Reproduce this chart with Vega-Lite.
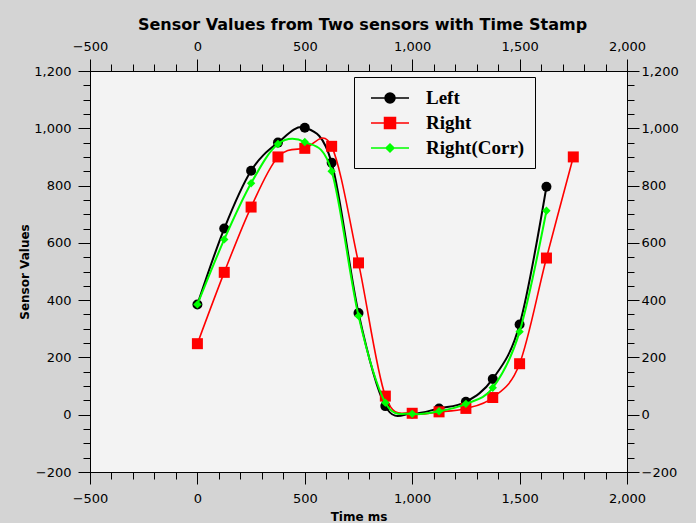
{
  "$schema": "https://vega.github.io/schema/vega-lite/v6.json",
  "width": 537,
  "height": 401,
  "autosize": {"type": "none"},
  "padding": {"left": 90, "top": 71, "right": 69, "bottom": 51},
  "background": "#d4d4d4",
  "title": {"text": "Sensor Values from Two sensors with Time Stamp", "font": "DejaVu Sans", "fontSize": 16, "fontWeight": "bold", "color": "black", "offset": 7, "frame": "group", "anchor": "middle", "dx": 4},
  "config": {
    "view": {"fill": "#f3f3f3", "stroke": "black", "strokeWidth": 1},
    "axis": {"labelFont": "DejaVu Sans", "labelFontSize": 13, "labelColor": "black", "tickColor": "black", "domainColor": "black", "grid": false, "titleFont": "DejaVu Sans", "titleFontSize": 12, "titleFontWeight": "bold", "titleColor": "black", "labelFlush": false, "labelOverlap": false}
  },
  "data": {"values": [
    {"t": 0, "v": 385, "s": "Left"},
    {"t": 125, "v": 650, "s": "Left"},
    {"t": 250, "v": 852, "s": "Left"},
    {"t": 375, "v": 950, "s": "Left"},
    {"t": 500, "v": 1002, "s": "Left"},
    {"t": 625, "v": 880, "s": "Left"},
    {"t": 750, "v": 355, "s": "Left"},
    {"t": 875, "v": 30, "s": "Left"},
    {"t": 1000, "v": 4, "s": "Left"},
    {"t": 1125, "v": 22, "s": "Left"},
    {"t": 1250, "v": 45, "s": "Left"},
    {"t": 1375, "v": 125, "s": "Left"},
    {"t": 1500, "v": 315, "s": "Left"},
    {"t": 1625, "v": 796, "s": "Left"},
    {"t": 0, "v": 248, "s": "Right"},
    {"t": 125, "v": 497, "s": "Right"},
    {"t": 250, "v": 725, "s": "Right"},
    {"t": 375, "v": 900, "s": "Right"},
    {"t": 500, "v": 930, "s": "Right"},
    {"t": 625, "v": 937, "s": "Right"},
    {"t": 750, "v": 530, "s": "Right"},
    {"t": 875, "v": 65, "s": "Right"},
    {"t": 1000, "v": 5, "s": "Right"},
    {"t": 1125, "v": 10, "s": "Right"},
    {"t": 1250, "v": 22, "s": "Right"},
    {"t": 1375, "v": 60, "s": "Right"},
    {"t": 1500, "v": 178, "s": "Right"},
    {"t": 1625, "v": 547, "s": "Right"},
    {"t": 1750, "v": 900, "s": "Right"},
    {"t": 0, "v": 385, "s": "Right(Corr)"},
    {"t": 125, "v": 612, "s": "Right(Corr)"},
    {"t": 250, "v": 808, "s": "Right(Corr)"},
    {"t": 375, "v": 945, "s": "Right(Corr)"},
    {"t": 500, "v": 952, "s": "Right(Corr)"},
    {"t": 625, "v": 850, "s": "Right(Corr)"},
    {"t": 750, "v": 345, "s": "Right(Corr)"},
    {"t": 875, "v": 42, "s": "Right(Corr)"},
    {"t": 1000, "v": 3, "s": "Right(Corr)"},
    {"t": 1125, "v": 12, "s": "Right(Corr)"},
    {"t": 1250, "v": 38, "s": "Right(Corr)"},
    {"t": 1375, "v": 94, "s": "Right(Corr)"},
    {"t": 1500, "v": 290, "s": "Right(Corr)"},
    {"t": 1625, "v": 712, "s": "Right(Corr)"}
  ]},
  "layer": [
    {
      "transform": [{"filter": "datum.s === 'Left'"}],
      "mark": {"type": "line", "interpolate": "cardinal", "strokeWidth": 2, "point": {"filled": true, "size": 100, "shape": "circle", "opacity": 1}},
      "encoding": {
        "x": {"field": "t", "type": "quantitative", "scale": {"domain": [-500, 2000], "nice": false, "zero": false},
              "axis": {"orient": "bottom", "values": [-500, 0, 500, 1000, 1500, 2000], "format": ",d", "tickSize": 12, "labelPadding": 8, "title": "Time ms", "titlePadding": 6}},
        "y": {"field": "v", "type": "quantitative", "scale": {"domain": [-200, 1200], "nice": false, "zero": false},
              "axis": {"orient": "left", "values": [-200, 0, 200, 400, 600, 800, 1000, 1200], "format": ",d", "tickSize": 12, "labelPadding": 7, "title": "Sensor Values", "titlePadding": 2}},
        "color": {"field": "s", "type": "nominal",
          "scale": {"domain": ["Left", "Right", "Right(Corr)"], "range": ["#000000", "#ff0000", "#00ff00"]},
          "legend": {"orient": "none", "legendX": 264, "legendY": 6, "title": null, "padding": 10, "strokeColor": "black", "fillColor": "#f3f3f3",
            "labelFont": "Liberation Serif", "labelFontSize": 19, "labelFontWeight": "bold", "labelColor": "black",
            "symbolSize": 400, "symbolOffset": 15, "labelOffset": 25, "rowPadding": 4, "symbolStrokeWidth": 1.5,
            "encode": {"symbols": {"update": {
              "shape": {"signal": "datum.value === 'Left' ? 'M-1.9,0H1.9M0.5,0A0.5,0.5,0,1,1,-0.5,0A0.5,0.5,0,1,1,0.5,0Z' : datum.value === 'Right' ? 'M-1.9,0H1.9M-0.55,-0.55H0.55V0.55H-0.55Z' : 'M-1.9,0H1.9M0,-0.4L0.4,0L0,0.4L-0.4,0Z'"},
              "fill": {"signal": "datum.value === 'Left' ? '#000000' : datum.value === 'Right' ? '#ff0000' : '#00ff00'"},
              "stroke": {"signal": "datum.value === 'Left' ? '#000000' : datum.value === 'Right' ? '#ff0000' : '#00ff00'"},
              "strokeWidth": {"value": 1.5},
              "opacity": {"value": 1},
              "fillOpacity": {"value": 1}
            }}}
          }}
      }
    },
    {
      "transform": [{"filter": "datum.s === 'Right'"}],
      "mark": {"type": "line", "interpolate": "cardinal", "strokeWidth": 1.6, "color": "#ff0000", "point": {"filled": true, "size": 121, "shape": "square", "color": "#ff0000", "opacity": 1}},
      "encoding": {
        "x": {"field": "t", "type": "quantitative", "axis": {"orient": "bottom", "values": [-500, -400, -300, -200, -100, 0, 100, 200, 300, 400, 500, 600, 700, 800, 900, 1000, 1100, 1200, 1300, 1400, 1500, 1600, 1700, 1800, 1900, 2000], "labels": false, "domain": false, "tickSize": 7, "title": null}},
        "y": {"field": "v", "type": "quantitative", "axis": {"orient": "left", "values": [-200, -150, -100, -50, 0, 50, 100, 150, 200, 250, 300, 350, 400, 450, 500, 550, 600, 650, 700, 750, 800, 850, 900, 950, 1000, 1050, 1100, 1150, 1200], "labels": false, "domain": false, "tickSize": 7, "title": null}}
      }
    },
    {
      "transform": [{"filter": "datum.s === 'Right(Corr)'"}],
      "mark": {"type": "line", "interpolate": "cardinal", "strokeWidth": 2, "color": "#00ff00", "point": {"filled": true, "size": 70, "shape": "diamond", "color": "#00ff00", "opacity": 1}},
      "encoding": {
        "x": {"field": "t", "type": "quantitative", "axis": {"orient": "top", "values": [-500, 0, 500, 1000, 1500, 2000], "format": ",d", "tickSize": 12, "labelPadding": 6, "title": null}},
        "y": {"field": "v", "type": "quantitative", "axis": {"orient": "right", "values": [-200, 0, 200, 400, 600, 800, 1000, 1200], "format": ",d", "tickSize": 12, "labelPadding": 2, "title": null}}
      }
    },
    {
      "mark": {"type": "point", "opacity": 0},
      "encoding": {
        "x": {"field": "t", "type": "quantitative", "axis": {"orient": "top", "values": [-500, -400, -300, -200, -100, 0, 100, 200, 300, 400, 500, 600, 700, 800, 900, 1000, 1100, 1200, 1300, 1400, 1500, 1600, 1700, 1800, 1900, 2000], "labels": false, "domain": false, "tickSize": 7, "title": null}},
        "y": {"field": "v", "type": "quantitative", "axis": {"orient": "right", "values": [-200, -150, -100, -50, 0, 50, 100, 150, 200, 250, 300, 350, 400, 450, 500, 550, 600, 650, 700, 750, 800, 850, 900, 950, 1000, 1050, 1100, 1150, 1200], "labels": false, "domain": false, "tickSize": 7, "title": null}}
      }
    }
  ],
  "resolve": {"axis": {"x": "independent", "y": "independent"}}
}
